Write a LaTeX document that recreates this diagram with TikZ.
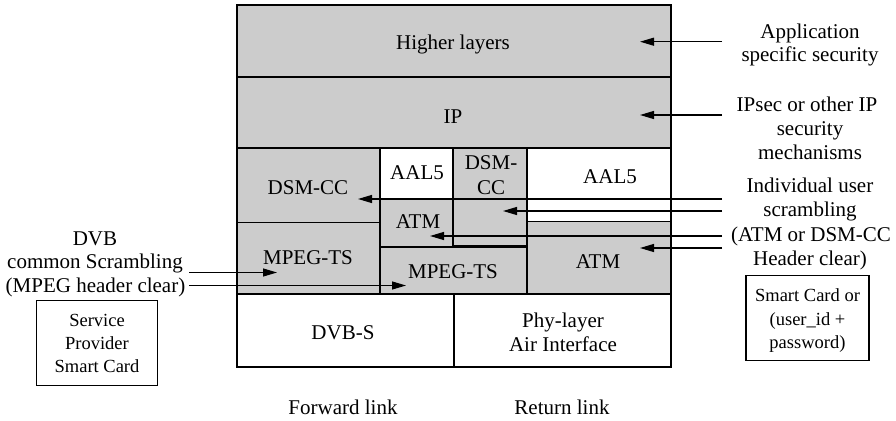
\documentclass[tikz,border=0pt]{standalone}
\usepackage{fontspec}
\setmainfont{Liberation Serif}
\usetikzlibrary{arrows.meta}
\definecolor{cellgray}{HTML}{CCCCCC}
\begin{document}
\begin{tikzpicture}[x=1pt,y=-1pt,
  cell/.style={draw=black, line width=1.1pt, inner sep=0pt, outer sep=0pt, anchor=north west},
  gcell/.style={cell, fill=cellgray},
  wcell/.style={cell, fill=white},
  lbl/.style={font=\fontsize{21}{24}\selectfont, inner sep=0pt, anchor=base},
  sml/.style={font=\fontsize{18.5}{23}\selectfont, inner sep=0pt, anchor=base},
  arr/.style={line width=1.1pt, -{Triangle[length=14pt,width=8pt]}},
  ln/.style={line width=1.1pt}]
\useasboundingbox (0,0) rectangle (896,420);

% ---- protocol stack cells ----
\node[gcell, minimum width=434pt, minimum height=72pt] (higher) at (237,5) {};
\node[gcell, minimum width=434pt, minimum height=71pt] (ip) at (237,77) {};
\node[gcell, minimum width=143pt, minimum height=74.5pt] (dsmL) at (237,148) {};
\node[gcell, minimum width=143pt, minimum height=71.5pt] (mpegL) at (237,222.5) {};
\node[wcell, minimum width=73pt, minimum height=50.5pt] (aalM) at (380,148) {};
\node[gcell, minimum width=73pt, minimum height=48.5pt] (atmM) at (380,198.5) {};
\node[gcell, minimum width=147pt, minimum height=47pt] (mpegM) at (380,247) {};
\node[wcell, minimum width=144pt, minimum height=73.5pt] (aalR) at (527,148) {};
\node[gcell, minimum width=144pt, minimum height=72.5pt] (atmR) at (527,221.5) {};
\node[wcell, minimum width=217pt, minimum height=73pt] (dvbs) at (237,294) {};
\node[wcell, minimum width=217pt, minimum height=73pt] (phy) at (454,294) {};
\node[gcell, line width=2pt, minimum width=74pt, minimum height=98pt] (dsmM) at (453,148) {};
\node[cell, line width=1.3pt, minimum width=434pt, minimum height=362pt] (stack) at (237,5) {};

% ---- cell texts ----
\node[lbl] (t-higher) at (453,49) {Higher layers};
\node[lbl] (t-ip) at (453,123) {IP};
\node[lbl] (t-dsmL) at (308,194.5) {DSM-CC};
\node[lbl] (t-aalM) at (417,179.5) {AAL5};
\node[lbl] (t-atmM) at (418,228) {ATM};
\node[lbl] (t-dsmM1) at (491,169.5) {DSM-};
\node[lbl] (t-dsmM2) at (491,194.5) {CC};
\node[lbl] (t-aalR) at (610,183) {AAL5};
\node[lbl] (t-mpegL) at (308,264.5) {MPEG-TS};
\node[lbl] (t-mpegM) at (453,278) {MPEG-TS};
\node[lbl] (t-atmR) at (598,268) {ATM};
\node[lbl] (t-dvbs) at (343,339.5) {DVB-S};
\node[lbl] (t-phy1) at (563,327) {Phy-layer};
\node[lbl] (t-phy2) at (563,351.5) {Air Interface};
\node[lbl] (t-fwd) at (343,414.5) {Forward link};
\node[lbl] (t-ret) at (562,414.5) {Return link};

% ---- right-hand annotations ----
\node[lbl] (r-a1) at (810,38.3) {Application};
\node[lbl] (r-a2) at (810,61.7) {specific security};
\node[lbl] (r-b1) at (807,111.7) {IPsec or other IP};
\node[lbl] (r-b2) at (810,135.7) {security};
\node[lbl] (r-b3) at (810,159.7) {mechanisms};
\node[lbl] (r-c1) at (810,192) {Individual user};
\node[lbl] (r-c2) at (810,216.5) {scrambling};
\node[lbl] (r-c3) at (811,241) {(ATM or DSM-CC};
\node[lbl] (r-c4) at (810,265) {Header clear)};
\node[draw, line width=1.1pt, inner sep=0pt, outer sep=0pt, anchor=north west,
      minimum width=123pt, minimum height=85pt] (card) at (746,275.5) {};
\node[sml] (card1) at (807.5,301.7) {Smart Card or};
\node[sml] (card2) at (807.5,325) {(user\_id +};
\node[sml] (card3) at (807.5,348.3) {password)};

% ---- left-hand annotations ----
\node[lbl] (l-1) at (95,245) {DVB};
\node[lbl] (l-2) at (95,268.3) {common Scrambling};
\node[lbl] (l-3) at (95.5,292.5) {(MPEG header clear)};
\node[draw, line width=1.1pt, inner sep=0pt, outer sep=0pt, anchor=north west,
      minimum width=121pt, minimum height=85pt] (spcard) at (36.5,300.7) {};
\node[sml] (sp1) at (97,326.7) {Service};
\node[sml] (sp2) at (97,349.7) {Provider};
\node[sml] (sp3) at (97,372.7) {Smart Card};

% ---- connector end points ----
\coordinate (s1) at (722,41.7);  \coordinate (e1) at (640,41.7);
\coordinate (s2) at (722,115);   \coordinate (e2) at (640,115);
\coordinate (s3) at (722,199);   \coordinate (e3) at (358,199);
\coordinate (s4) at (722,211);   \coordinate (e4) at (503,211);
\coordinate (s5) at (722,236);   \coordinate (e5) at (430,236);
\coordinate (s6) at (722,248);   \coordinate (e6) at (640,248);
\coordinate (s7) at (189,272.5); \coordinate (e7) at (277,272.5);
\coordinate (s8) at (189,285.5); \coordinate (e8) at (406,285.5);

\draw[arr] (s1) -- (e1);
\draw[arr] (s2) -- (e2);
\draw[arr] (s3) -- (e3);
\draw[arr] (s4) -- (e4);
\draw[arr] (s5) -- (e5);
\draw[arr] (s6) -- (e6);
\draw[arr] (s7) -- (e7);
\draw[arr] (s8) -- (e8);
\end{tikzpicture}
\end{document}
